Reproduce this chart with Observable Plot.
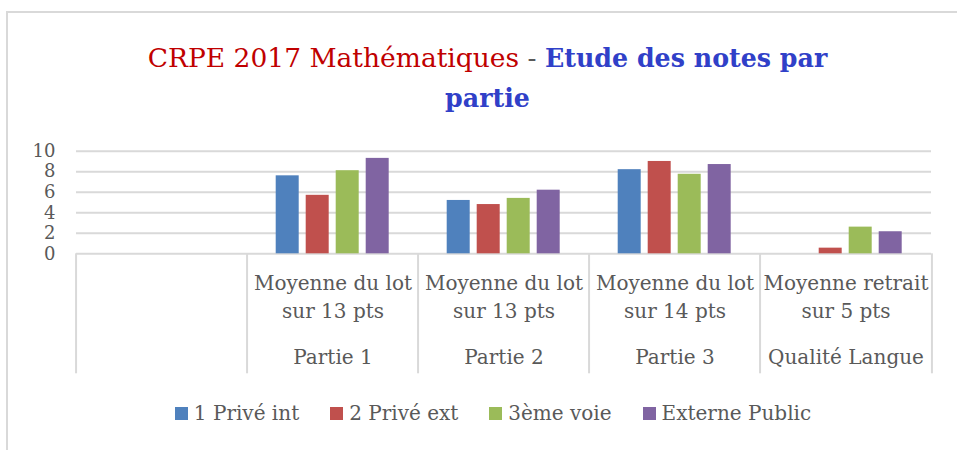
<!DOCTYPE html>
<html><head><meta charset="utf-8">
<script src="https://cdn.jsdelivr.net/npm/d3@7"></script>
<script src="https://cdn.jsdelivr.net/npm/@observablehq/plot@0.6"></script>
<style>
body{margin:0;background:#fff;width:957px;height:450px;overflow:hidden;position:relative;font-family:"DejaVu Serif",serif;}
#frame{position:absolute;left:6px;top:11px;width:1000px;height:500px;border:2px solid #d9d9d9;box-sizing:border-box}
#title{position:absolute;left:0;width:975px;top:38px;text-align:center;font-size:26.5px;line-height:40px;white-space:nowrap}
#title .a{color:#c00000}
#title .d{color:#595959}
#title .b{color:#3040c8;font-weight:bold;font-size:25.3px}
#chart{position:absolute;left:0;top:130px}
#legend{position:absolute;left:0;width:986px;top:400px;display:flex;justify-content:center;gap:31px;font-size:20px;color:#595959;line-height:26px}
#legend .it{display:flex;align-items:center;gap:6px}
#legend .sw{width:13px;height:13px;display:inline-block}
</style></head>
<body>
<div id="frame"></div>
<div id="title"><span class="a">CRPE 2017 Mathématiques</span><span class="d"> - </span><span class="b">Etude des notes par</span><br><span class="b">partie</span></div>
<div id="chart"></div>
<div id="legend"></div>
<script>
const categories = [" ", "Partie 1", "Partie 2", "Partie 3", "Qualité Langue"];
const subLabels = ["", "Moyenne du lot\nsur 13 pts", "Moyenne du lot\nsur 13 pts", "Moyenne du lot\nsur 14 pts", "Moyenne retrait\nsur 5 pts"];
const series = ["1 Privé int", "2 Privé ext", "3ème voie", "Externe Public"];
const valPriveInt = [null, 7.6, 5.2, 8.2, null];
const valPriveExt = [null, 5.7, 4.8, 9.0, 0.55];
const valTroisiemeVoie = [null, 8.1, 5.4, 7.75, 2.6];
const valExternePublic = [null, 9.3, 6.2, 8.7, 2.15];
const yTicks = [0, 2, 4, 6, 8, 10];
const colors = ["#4f81bd", "#c0504d", "#9bbb59", "#8064a2"];

const values = [valPriveInt, valPriveExt, valTroisiemeVoie, valExternePublic];
const rows = [];
categories.forEach((c, i) => series.forEach((s, j) => rows.push({cat: c, series: s, value: values[j][i]})));

const W = 957, H = 250, ML = 73.3, MR = 24.3, MT = 20.7, MB = 126.7;
const facetW = (W - ML - MR) / categories.length;
const grey = "#d9d9d9";

const chart = Plot.plot({
  width: W, height: H,
  marginLeft: ML, marginRight: MR, marginTop: MT, marginBottom: MB,
  style: {fontFamily: "DejaVu Serif", fontSize: "20px", color: "#595959", background: "transparent", overflow: "visible"},
  fx: {domain: categories, padding: 0, axis: null, label: null},
  x: {domain: series, paddingInner: 0.226, paddingOuter: 0.888, axis: null},
  y: {domain: [0, 10], axis: null},
  color: {domain: series, range: colors},
  marks: [
    Plot.ruleY(yTicks, {stroke: grey, strokeWidth: 2}),
    Plot.barY(rows, {fx: "cat", x: "series", y: "value", fill: "series"}),
    Plot.axisY({ticks: yTicks, tickSize: 0, tickPadding: 21, fontSize: 18, label: null}),
    Plot.axisFx({anchor: "bottom", tickSize: 0, tickPadding: 16, tickFormat: d => subLabels[categories.indexOf(d)], lineHeight: 1.4, fontSize: 20, label: null}),
    Plot.axisFx({anchor: "bottom", tickSize: 0, tickPadding: 96, tickFormat: d => d.trim(), fontSize: 20, label: null}),
    Plot.axisFx({anchor: "bottom", tickSize: 120, tickFormat: () => "", dx: -facetW / 2, stroke: grey, strokeWidth: 2, label: null}),
    Plot.axisFx({anchor: "bottom", ticks: [categories[categories.length - 1]], tickSize: 120, tickFormat: () => "", dx: facetW / 2, stroke: grey, strokeWidth: 2, label: null})
  ]
});
document.getElementById("chart").append(chart);

const lg = document.getElementById("legend");
series.forEach((s, i) => {
  const it = document.createElement("div"); it.className = "it";
  const sw = document.createElement("span"); sw.className = "sw"; sw.style.background = colors[i];
  const t = document.createElement("span"); t.textContent = s;
  it.append(sw, t); lg.append(it);
});
</script>
</body></html>
